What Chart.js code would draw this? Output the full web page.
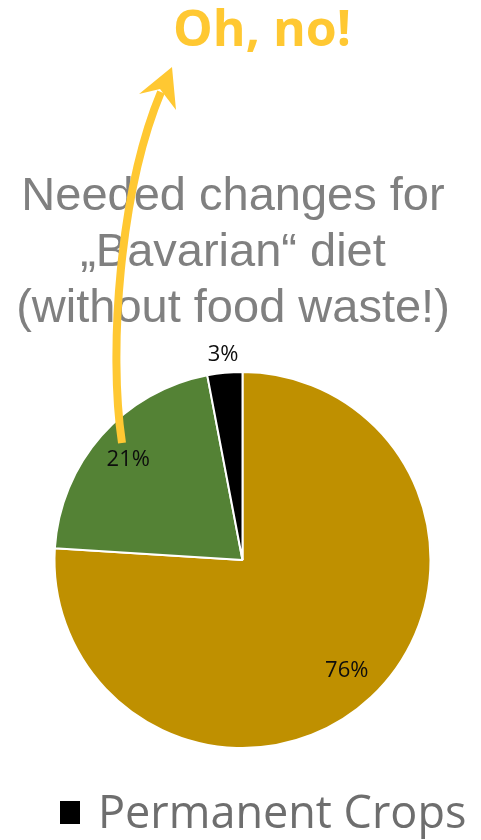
<!DOCTYPE html>
<html>
<head>
<meta charset="utf-8">
<script src="https://cdn.jsdelivr.net/npm/chart.js@4/dist/chart.umd.min.js"></script>
<style>
  html, body { margin: 0; padding: 0; background: #fff; }
  #wrap { position: relative; width: 481px; height: 840px; overflow: hidden; }
  #pie { position: absolute; left: 0; top: 0; }
  .oh { position: absolute; left: 0; width: 524px; top: -7px; text-align: center;
        font: bold 50px "Open Sans", sans-serif; color: #ffc832; }
  .sub { position: absolute; left: 0; width: 466px; top: 166px; text-align: center;
         font: 47px/56px "Liberation Sans", Arial, sans-serif; color: #808080; }
  .legend { position: absolute; left: 60px; top: 780px; font: 45px "Open Sans", sans-serif; color: #6e6e6e; white-space: nowrap; }
  .legend i { display: inline-block; width: 20px; height: 23px; background: #000; margin-right: 18px; vertical-align: 4px; }
  svg { position: absolute; left: 0; top: 0; }
</style>
</head>
<body>
<div id="wrap">
  <canvas id="pie" width="481" height="840"></canvas>
  <div class="oh">Oh, no!</div>
  <div class="sub">Needed changes for<br>„Bavarian“ diet<br>(without food waste!)</div>
  <div class="legend"><i></i>Permanent Crops</div>
  <svg width="481" height="840">
    <path d="M122,443 C108,350 120,190 161,92" fill="none" stroke="#ffc832" stroke-width="8"/>
    <polygon points="172,67 139,94 160,89 176,110" fill="#ffc832"/>
  </svg>
</div>
<script>
const categories = ['Arable Land', 'Grassland', 'Permanent Crops'];
const shares = [76, 21, 3];
const sliceColors = ['#bf9000', '#548235', '#000000'];

const pctLabels = {
  id: 'pctLabels',
  afterDatasetsDraw(chart) {
    const ctx = chart.ctx;
    const meta = chart.getDatasetMeta(0);
    const total = shares.reduce((a, b) => a + b, 0);
    ctx.save();
    ctx.font = '22px "Open Sans", sans-serif';
    ctx.fillStyle = '#0d0d0d';
    ctx.textAlign = 'center';
    ctx.textBaseline = 'middle';
    meta.data.forEach((arc, i) => {
      const p = arc.getProps(['x', 'y', 'startAngle', 'endAngle', 'outerRadius'], true);
      const mid = (p.startAngle + p.endAngle) / 2;
      const pct = Math.round(shares[i] / total * 100);
      const r = pct < 5 ? p.outerRadius + 18 : p.outerRadius * 0.81;
      ctx.fillText(pct + '%', p.x + Math.cos(mid) * r, p.y + Math.sin(mid) * r);
    });
    ctx.restore();
  }
};

new Chart(document.getElementById('pie').getContext('2d'), {
  type: 'pie',
  data: {
    labels: categories,
    datasets: [{
      data: shares,
      backgroundColor: sliceColors,
      borderColor: '#ffffff',
      borderWidth: 2,
      hoverOffset: 0
    }]
  },
  options: {
    responsive: false,
    animation: false,
    layout: { padding: { left: 53, right: 49, top: 371, bottom: 91 } },
    plugins: {
      legend: { display: false },
      tooltip: { enabled: false }
    }
  },
  plugins: [pctLabels]
});
</script>
</body>
</html>
